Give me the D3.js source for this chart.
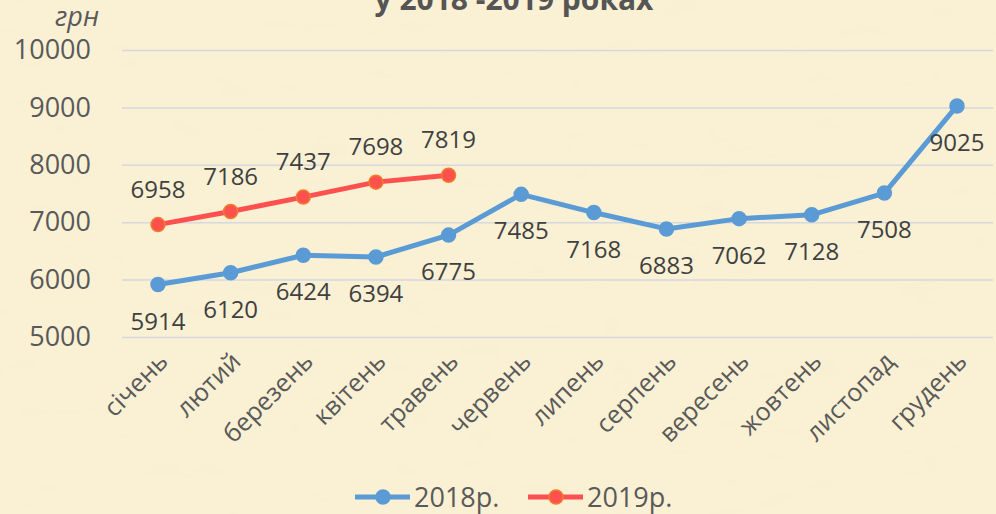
<!DOCTYPE html>
<html lang="uk">
<head>
<meta charset="utf-8">
<title>Заробітна плата у 2018-2019 роках</title>
<script src="https://d3js.org/d3.v7.min.js"></script>
<style>
  body { margin: 0; background: #f9eed1; }
  svg text { font-family: "Open Sans", "DejaVu Sans", sans-serif; }
</style>
</head>
<body>
<div id="chart"></div>
<script>
// data
var months = ["січень", "лютий", "березень", "квітень", "травень", "червень",
              "липень", "серпень", "вересень", "жовтень", "листопад", "грудень"];
var wages2018 = [5914, 6120, 6424, 6394, 6775, 7485, 7168, 6883, 7062, 7128, 7508, 9025];
var wages2019 = [6958, 7186, 7437, 7698, 7819];
var yTicks = [5000, 6000, 7000, 8000, 9000, 10000];
var seriesNames = ["2018р.", "2019р."];

var W = 996, H = 514;
var blue = "#5b9bd5", red = "#ff5050", redEdge = "#f07d2c";

var svg = d3.select("#chart").append("svg")
  .attr("width", W).attr("height", H);

// parchment-ish backdrop
var defs = svg.append("defs");
var f = defs.append("filter").attr("id", "paper")
  .attr("x", 0).attr("y", 0).attr("width", "100%").attr("height", "100%");
f.append("feTurbulence").attr("type", "fractalNoise")
  .attr("baseFrequency", "0.02 0.05").attr("numOctaves", 3).attr("seed", 7);
f.append("feColorMatrix").attr("type", "matrix")
  .attr("values", "0 0 0 0 0.93  0 0 0 0 0.86  0 0 0 0 0.66  0 0 0 0.35 -0.08");

svg.append("rect").attr("width", W).attr("height", H).attr("fill", "#faf0d4");
svg.append("rect").attr("width", W).attr("height", H).attr("filter", "url(#paper)");

var x = d3.scalePoint().domain(months).range([158, 957]);
var y = d3.scaleLinear().domain([5000, 10000]).range([337, 50]);

// gridlines + y axis
var yAxis = d3.axisLeft(y).tickValues(yTicks).tickSize(-871).tickPadding(31)
  .tickFormat(d3.format("d"));
var gy = svg.append("g").attr("transform", "translate(122,0)").call(yAxis);
gy.select(".domain").remove();
gy.selectAll(".tick line").attr("stroke", "#d5d8df").attr("stroke-width", 1.5);
gy.selectAll(".tick text").attr("fill", "#595959").style("font-size", "27px");

// x axis labels
var xAxis = d3.axisBottom(x).tickSize(0).tickPadding(0);
var gx = svg.append("g").attr("transform", "translate(0,356)").call(xAxis);
gx.select(".domain").remove();
gx.selectAll(".tick text")
  .attr("fill", "#595959").style("font-size", "25px")
  .attr("text-anchor", "end").attr("dy", 0).attr("y", 0)
  .attr("transform", "translate(11,7) rotate(-45)");

// title (cut off at the top) and unit
svg.append("text").attr("x", 514).attr("y", 10).attr("text-anchor", "middle")
  .attr("fill", "#555555").style("font-size", "30px").style("font-weight", "bold")
  .text("у 2018 -2019 роках");
svg.append("text").attr("x", 99).attr("y", 26).attr("text-anchor", "end")
  .attr("fill", "#595959").style("font-size", "27px").style("font-style", "italic")
  .text("грн");

var line = d3.line()
  .x(function(d, i) { return x(months[i]); })
  .y(function(d) { return y(d); });

function drawSeries(vals, color, edge, dy) {
  var g = svg.append("g");
  g.append("path").datum(vals).attr("d", line)
    .attr("fill", "none").attr("stroke", color).attr("stroke-width", 5)
    .attr("stroke-linejoin", "round");
  g.selectAll("circle").data(vals).enter().append("circle")
    .attr("cx", function(d, i) { return x(months[i]); })
    .attr("cy", function(d) { return y(d); })
    .attr("r", 7).attr("fill", color).attr("stroke", edge).attr("stroke-width", 1.5);
  g.selectAll("text").data(vals).enter().append("text")
    .attr("x", function(d, i) { return x(months[i]); })
    .attr("y", function(d) { return y(d) + dy; })
    .attr("text-anchor", "middle").attr("fill", "#404040").style("font-size", "24px")
    .text(function(d) { return d; });
}

drawSeries(wages2018, blue, blue, 45);
drawSeries(wages2019, red, redEdge, -27);

// legend
var legend = [
  { name: seriesNames[0], color: blue, edge: blue, x: 355 },
  { name: seriesNames[1], color: red, edge: redEdge, x: 528 }
];
var lg = svg.selectAll(".legend").data(legend).enter().append("g")
  .attr("class", "legend")
  .attr("transform", function(d) { return "translate(" + d.x + ",497)"; });
lg.append("line").attr("x1", 0).attr("x2", 55)
  .attr("stroke", function(d) { return d.color; }).attr("stroke-width", 5);
lg.append("circle").attr("cx", 28).attr("r", 7)
  .attr("fill", function(d) { return d.color; })
  .attr("stroke", function(d) { return d.edge; }).attr("stroke-width", 1.5);
lg.append("text").attr("x", 59).attr("y", 10)
  .attr("fill", "#595959").style("font-size", "27px")
  .text(function(d) { return d.name; });
</script>
</body>
</html>
